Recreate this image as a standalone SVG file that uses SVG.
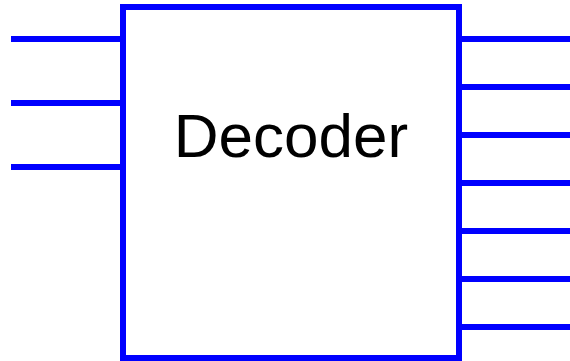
<svg xmlns="http://www.w3.org/2000/svg" width="570" height="361" viewBox="0 0 570 361">
  <style>
    .wire { stroke: #0000ff; stroke-width: 6; fill: none; }
    .block { stroke: #0000ff; stroke-width: 6; fill: #ffffff; }
    .label { font-family: "Liberation Sans", Arial, sans-serif; font-size: 62px; fill: #000000; }
  </style>
  <rect width="570" height="361" fill="#ffffff"/>
  <g id="connectors">
    <!-- inputs -->
    <line class="wire" x1="11" y1="39" x2="123" y2="39"/>
    <line class="wire" x1="11" y1="103" x2="123" y2="103"/>
    <line class="wire" x1="11" y1="167" x2="123" y2="167"/>
    <!-- outputs -->
    <line class="wire" x1="459" y1="39" x2="570" y2="39"/>
    <line class="wire" x1="459" y1="87" x2="570" y2="87"/>
    <line class="wire" x1="459" y1="135" x2="570" y2="135"/>
    <line class="wire" x1="459" y1="183" x2="570" y2="183"/>
    <line class="wire" x1="459" y1="231" x2="570" y2="231"/>
    <line class="wire" x1="459" y1="279" x2="570" y2="279"/>
    <line class="wire" x1="459" y1="327" x2="570" y2="327"/>
  </g>
  <g id="decoder">
    <rect class="block" x="123" y="7" width="336" height="351"/>
    <text class="label" x="291" y="157" text-anchor="middle">Decoder</text>
  </g>
</svg>
